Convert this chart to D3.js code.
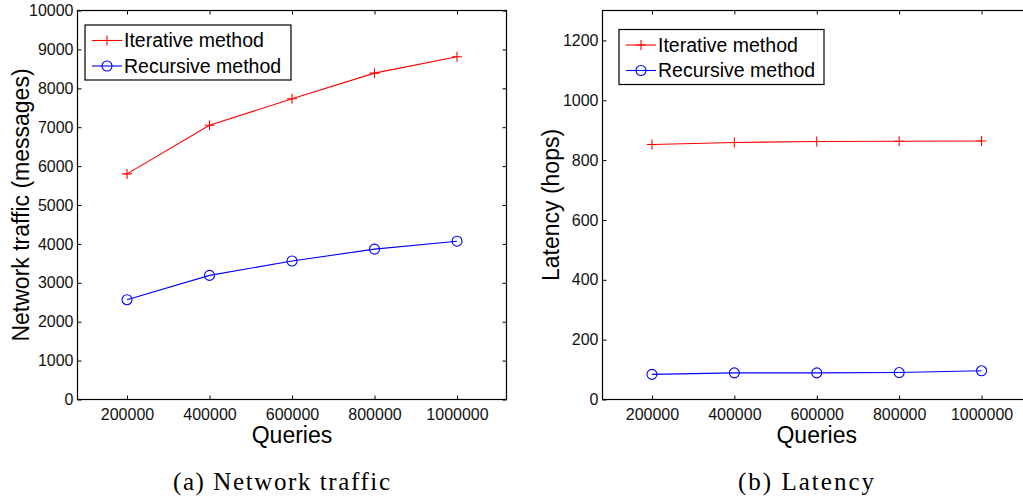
<!DOCTYPE html>
<html>
<head>
<meta charset="utf-8">
<script src="https://cdn.jsdelivr.net/npm/d3@7"></script>
<style>
  html, body { margin: 0; padding: 0; background: #fff; }
  svg { display: block; }
</style>
</head>
<body>
<svg id="chart" width="1023" height="500"></svg>
<script>
// Query counts on the x axis
const queries = [200000, 400000, 600000, 800000, 1000000];
const xTicks = [200000, 400000, 600000, 800000, 1000000];

// (a) Network traffic, in messages
const trafficIterative = [5800, 7050, 7730, 8390, 8810];
const trafficRecursive = [2565, 3190, 3560, 3865, 4070];
const trafficTicks = [0, 1000, 2000, 3000, 4000, 5000, 6000, 7000, 8000, 9000, 10000];

// (b) Latency, in hops
const latencyIterative = [852, 859, 862, 863, 864];
const latencyRecursive = [84, 89, 89, 90, 96];
const latencyTicks = [0, 200, 400, 600, 800, 1000, 1200];

const seriesNames = ["Iterative method", "Recursive method"];
const seriesColors = ["#ff0000", "#0000ff"];

const svg = d3.select("#chart");
const sansFont = "'Liberation Sans', Arial, Helvetica, sans-serif";
const serifFont = "'Liberation Serif', 'DejaVu Serif', serif";

function drawPanel(opt) {
  const g = svg.append("g");
  const x = d3.scaleLinear().domain([80000, 1120000]).range([opt.left, opt.right]);
  const y = d3.scaleLinear().domain([0, opt.yMax]).range([opt.bottom, opt.top]);
  const tickLen = 4;

  // axis box
  g.append("rect")
    .attr("x", opt.left).attr("y", opt.top)
    .attr("width", opt.right - opt.left).attr("height", opt.bottom - opt.top)
    .attr("fill", "none").attr("stroke", "#000").attr("stroke-width", 1.2);

  // bottom axis: inward ticks with labels below
  const xb = d3.axisBottom(x).tickValues(xTicks).tickSizeInner(-tickLen).tickSizeOuter(0)
    .tickPadding(9).tickFormat(d3.format("d"));
  const gxb = g.append("g").attr("transform", `translate(0,${opt.bottom})`).call(xb);
  // top axis: inward ticks only
  const xt = d3.axisTop(x).tickValues(xTicks).tickSizeInner(-tickLen).tickSizeOuter(0).tickFormat("");
  const gxt = g.append("g").attr("transform", `translate(0,${opt.top})`).call(xt);
  // left axis: inward ticks with labels
  const yl = d3.axisLeft(y).tickValues(opt.yTicks).tickSizeInner(-tickLen).tickSizeOuter(0)
    .tickPadding(4).tickFormat(d3.format("d"));
  const gyl = g.append("g").attr("transform", `translate(${opt.left},0)`).call(yl);
  // right axis: inward ticks only
  const yr = d3.axisRight(y).tickValues(opt.yTicks).tickSizeInner(-tickLen).tickSizeOuter(0).tickFormat("");
  const gyr = g.append("g").attr("transform", `translate(${opt.right},0)`).call(yr);

  [gxb, gxt, gyl, gyr].forEach(a => {
    a.select(".domain").remove();
    a.selectAll(".tick line").attr("stroke", "#000").attr("stroke-width", 1);
    a.selectAll("text").attr("font-family", sansFont).attr("font-size", 16).attr("fill", "#111");
  });
  gxb.selectAll("text").attr("dy", "0.71em");

  // axis titles
  g.append("text")
    .attr("x", (opt.left + opt.right) / 2 + opt.xTitleShift).attr("y", opt.bottom + 43)
    .attr("text-anchor", "middle").attr("font-family", sansFont).attr("font-size", 23)
    .text("Queries");
  g.append("text")
    .attr("transform", `translate(${opt.yTitleX},${(opt.top + opt.bottom) / 2}) rotate(-90)`)
    .attr("text-anchor", "middle").attr("dy", "0.35em")
    .attr("font-family", sansFont).attr("font-size", 23)
    .text(opt.yTitle);

  // series
  const line = d3.line().x((d, i) => x(queries[i])).y(d => y(d));
  opt.series.forEach((vals, si) => {
    const color = seriesColors[si];
    g.append("path").datum(vals)
      .attr("d", line).attr("fill", "none").attr("stroke", color).attr("stroke-width", 1.1);
    const pts = g.append("g").selectAll("g").data(vals).join("g")
      .attr("transform", (d, i) => `translate(${x(queries[i])},${y(d)})`);
    drawMarker(pts, si, color);
  });

  // legend
  const lg = g.append("g").attr("transform", `translate(${opt.legendX},${opt.legendY})`);
  lg.append("rect").attr("x", 0).attr("y", 0).attr("width", opt.legendW).attr("height", 55)
    .attr("fill", "#fff").attr("stroke", "#000").attr("stroke-width", 1.2);
  seriesNames.forEach((name, si) => {
    const cy = 15.5 + si * 25.5;
    lg.append("line").attr("x1", 7).attr("x2", 37).attr("y1", cy).attr("y2", cy)
      .attr("stroke", seriesColors[si]).attr("stroke-width", 1.1);
    drawMarker(lg.append("g").attr("transform", `translate(22,${cy})`), si, seriesColors[si]);
    lg.append("text").attr("x", 39).attr("y", cy).attr("dy", "0.35em")
      .attr("font-family", sansFont).attr("font-size", 19.5).text(name);
  });

  // caption
  svg.append("text")
    .attr("x", opt.captionX).attr("y", 490)
    .attr("text-anchor", "middle").attr("font-family", serifFont).attr("font-size", 25)
    .attr("textLength", opt.captionW).attr("lengthAdjust", "spacing")
    .text(opt.caption);
}

function drawMarker(sel, si, color) {
  if (si === 0) {
    sel.append("path").attr("d", "M-5,0H5M0,-5V5")
      .attr("stroke", color).attr("stroke-width", 1.1).attr("fill", "none");
  } else {
    sel.append("circle").attr("r", 5)
      .attr("stroke", color).attr("stroke-width", 1.1).attr("fill", "none");
  }
}

drawPanel({
  left: 77.5, right: 506.5, top: 10.5, bottom: 399.5,
  yMax: 10000, yTicks: trafficTicks,
  series: [trafficIterative, trafficRecursive],
  yTitle: "Network traffic (messages)", yTitleX: 21, xTitleShift: 0,
  legendX: 85, legendY: 25, legendW: 206,
  caption: "(a) Network traffic", captionX: 281.5, captionW: 217
});

drawPanel({
  left: 602.5, right: 1031, top: 10.5, bottom: 399.5,
  yMax: 1300, yTicks: latencyTicks,
  series: [latencyIterative, latencyRecursive],
  yTitle: "Latency (hops)", yTitleX: 551, xTitleShift: 0,
  legendX: 619, legendY: 29.5, legendW: 205,
  caption: "(b) Latency", captionX: 806, captionW: 136
});
</script>
</body>
</html>
